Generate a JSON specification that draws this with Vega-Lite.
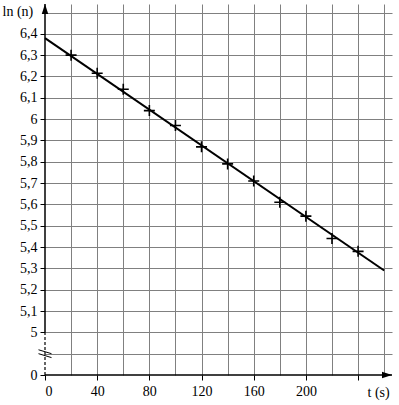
{
  "$schema": "https://vega.github.io/schema/vega-lite/v6.json",
  "width": 347,
  "height": 371,
  "autosize": "none",
  "padding": {"left": 45, "top": 4, "right": 7, "bottom": 30},
  "background": "white",
  "config": {"view": {"stroke": null}, "font": "Times New Roman, Liberation Serif, serif"},
  "encoding": {
    "x": {"field": "t", "type": "quantitative",
      "scale": {"domain": [0, 266], "nice": false, "zero": false},
      "axis": {
        "values": [0, 20, 40, 60, 80, 100, 120, 140, 160, 180, 200, 220, 240, 260],
        "grid": true, "gridColor": "#808080", "gridWidth": 1,
        "gridOpacity": {"condition": {"test": "datum.value === 0", "value": 0}, "value": 1},
        "domain": false,
        "ticks": true, "tickColor": "black", "tickSize": 5, "tickWidth": 1,
        "tickOpacity": {"condition": {"test": "datum.value % 40 === 0 && datum.value <= 240", "value": 1}, "value": 0},
        "labelExpr": "datum.value % 40 === 0 && datum.value <= 200 ? datum.label : ''",
        "format": "d", "labelOverlap": false,
        "labelFont": "Times New Roman, Liberation Serif, serif", "labelFontSize": 14, "labelColor": "black", "labelPadding": 4,
        "title": "t (s)", "titleFont": "Times New Roman, Liberation Serif, serif", "titleFontWeight": "normal", "titleFontSize": 14, "titleColor": "black",
        "titleX": 322, "titleY": 17, "titleAlign": "left", "titleBaseline": "middle"
      }
    },
    "y": {"field": "lnn", "type": "quantitative",
      "scale": {"domain": [4.8, 6.54], "nice": false, "zero": false},
      "axis": {
        "values": [4.8, 4.9, 5, 5.1, 5.2, 5.3, 5.4, 5.5, 5.6, 5.7, 5.8, 5.9, 6, 6.1, 6.2, 6.3, 6.4, 6.5],
        "grid": true, "gridColor": "#808080", "gridWidth": 1,
        "gridOpacity": {"condition": {"test": "abs(datum.value - 4.8) < 0.01", "value": 0}, "value": 1},
        "domain": false,
        "ticks": true, "tickColor": "black", "tickSize": 5, "tickWidth": 1,
        "tickOpacity": {"condition": {"test": "abs(datum.value - 4.9) < 0.01 || datum.value > 6.45", "value": 0}, "value": 1},
        "labelExpr": "abs(datum.value - 4.8) < 0.01 ? '0' : ((abs(datum.value - 4.9) < 0.01 || datum.value > 6.45) ? '' : replace(format(datum.value, '.2~f'), '.', ','))",
        "labelOverlap": false,
        "labelFont": "Times New Roman, Liberation Serif, serif", "labelFontSize": 14, "labelColor": "black", "labelPadding": 3,
        "title": "ln (n)", "titleFont": "Times New Roman, Liberation Serif, serif", "titleFontWeight": "normal", "titleFontSize": 14, "titleColor": "black",
        "titleAngle": 0, "titleX": -43, "titleY": 7, "titleAlign": "left", "titleBaseline": "middle"
      }
    }
  },
  "layer": [
    {
      "data": {"values": [
        {"t": 20, "lnn": 6.30}, {"t": 40, "lnn": 6.215}, {"t": 60, "lnn": 6.14},
        {"t": 80, "lnn": 6.04}, {"t": 100, "lnn": 5.97}, {"t": 120, "lnn": 5.87},
        {"t": 140, "lnn": 5.79}, {"t": 160, "lnn": 5.71}, {"t": 180, "lnn": 5.61},
        {"t": 200, "lnn": 5.545}, {"t": 220, "lnn": 5.44}, {"t": 240, "lnn": 5.38}
      ]},
      "mark": {"type": "point", "shape": "M-1,0L1,0M0,-1L0,1", "size": 121, "stroke": "black", "strokeWidth": 1.6, "filled": false, "opacity": 1}
    },
    {
      "data": {"values": [{"t": 0, "lnn": 6.38}, {"t": 260, "lnn": 5.29}]},
      "mark": {"type": "line", "color": "black", "strokeWidth": 2}
    },
    {
      "data": {"values": [{"t": 0, "lnn": 4.8, "t2": 266}]},
      "mark": {"type": "rule", "color": "black", "strokeWidth": 1.5},
      "encoding": {"x2": {"field": "t2"}}
    },
    {
      "data": {"values": [{"t": 0, "lnn": 5, "lnn2": 6.54}]},
      "mark": {"type": "rule", "color": "black", "strokeWidth": 1.5},
      "encoding": {"y2": {"field": "lnn2"}}
    },
    {
      "data": {"values": [{"t": 0, "lnn": 4.8, "lnn2": 5}]},
      "mark": {"type": "rule", "color": "black", "strokeWidth": 1.2, "strokeDash": [3, 2]},
      "encoding": {"y2": {"field": "lnn2"}}
    },
    {
      "data": {"values": [{"t": 0, "lnn": 4.9}]},
      "mark": {"type": "point", "shape": "M-1,-0.6L1,0M-1,0L1,0.6", "size": 169, "stroke": "black", "strokeWidth": 1, "filled": false, "opacity": 1}
    },
    {
      "data": {"values": [{"t": 266, "lnn": 4.8}]},
      "mark": {"type": "point", "shape": "M0,0L-2,-0.65L-2,0.65Z", "size": 100, "fill": "black", "stroke": null, "filled": true, "opacity": 1}
    },
    {
      "data": {"values": [{"t": 0, "lnn": 6.54}]},
      "mark": {"type": "point", "shape": "M0,0L-2,-0.65L-2,0.65Z", "size": 100, "angle": -90, "fill": "black", "stroke": null, "filled": true, "opacity": 1}
    }
  ]
}
